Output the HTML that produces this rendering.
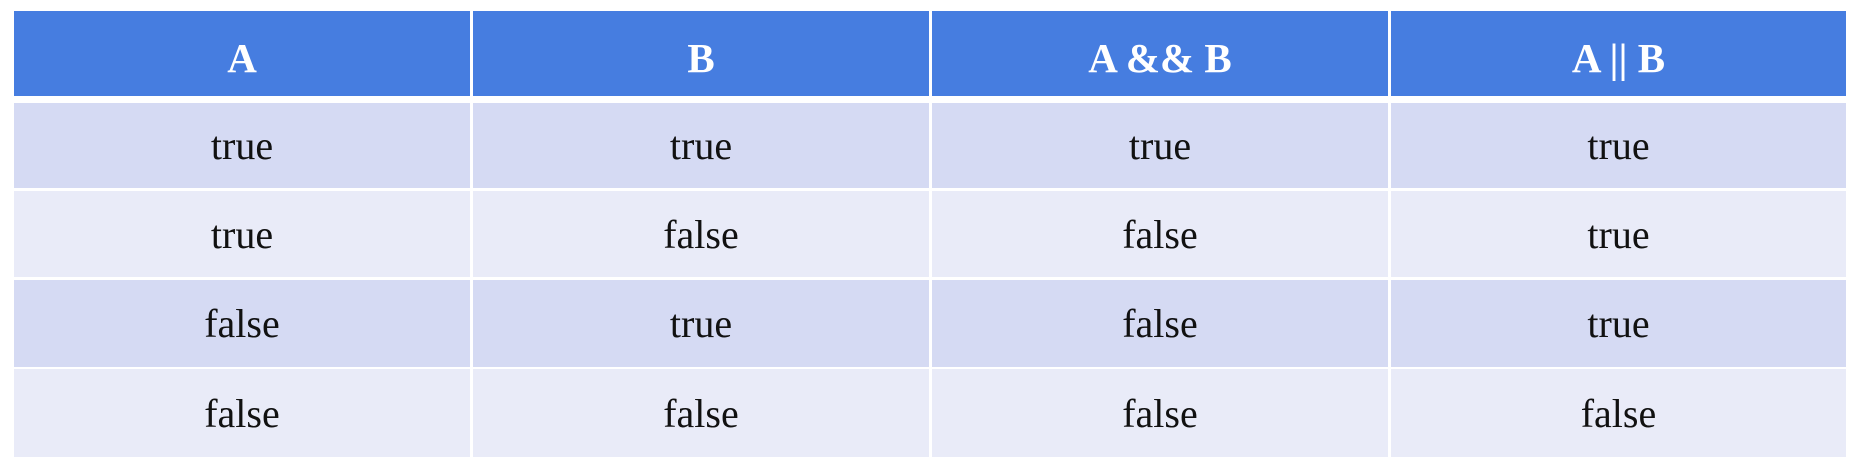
<!DOCTYPE html>
<html><head><meta charset="utf-8"><style>
html,body{margin:0;padding:0;background:#fff;width:1860px;height:468px;overflow:hidden;}
.c{position:absolute;display:flex;align-items:center;justify-content:center;font-family:"Liberation Serif",serif;}
.h{background:#467de0;color:#fff;font-weight:bold;font-size:41px;padding-top:8px;box-sizing:border-box;}
.o{background:#d5daf3;color:#111;font-size:40px;}
.e{background:#e9ebf8;color:#111;font-size:40px;}
</style></head><body>
<div class="c h" style="left:14px;top:11px;width:456px;height:85px;">A</div>
<div class="c h" style="left:473px;top:11px;width:456px;height:85px;">B</div>
<div class="c h" style="left:932px;top:11px;width:456px;height:85px;">A &amp;&amp; B</div>
<div class="c h" style="left:1391px;top:11px;width:455px;height:85px;">A || B</div>
<div class="c o" style="left:14px;top:103px;width:456px;height:85px;">true</div>
<div class="c o" style="left:473px;top:103px;width:456px;height:85px;">true</div>
<div class="c o" style="left:932px;top:103px;width:456px;height:85px;">true</div>
<div class="c o" style="left:1391px;top:103px;width:455px;height:85px;">true</div>
<div class="c e" style="left:14px;top:191px;width:456px;height:86px;">true</div>
<div class="c e" style="left:473px;top:191px;width:456px;height:86px;">false</div>
<div class="c e" style="left:932px;top:191px;width:456px;height:86px;">false</div>
<div class="c e" style="left:1391px;top:191px;width:455px;height:86px;">true</div>
<div class="c o" style="left:14px;top:280px;width:456px;height:87px;">false</div>
<div class="c o" style="left:473px;top:280px;width:456px;height:87px;">true</div>
<div class="c o" style="left:932px;top:280px;width:456px;height:87px;">false</div>
<div class="c o" style="left:1391px;top:280px;width:455px;height:87px;">true</div>
<div class="c e" style="left:14px;top:369px;width:456px;height:88px;">false</div>
<div class="c e" style="left:473px;top:369px;width:456px;height:88px;">false</div>
<div class="c e" style="left:932px;top:369px;width:456px;height:88px;">false</div>
<div class="c e" style="left:1391px;top:369px;width:455px;height:88px;">false</div>
</body></html>
